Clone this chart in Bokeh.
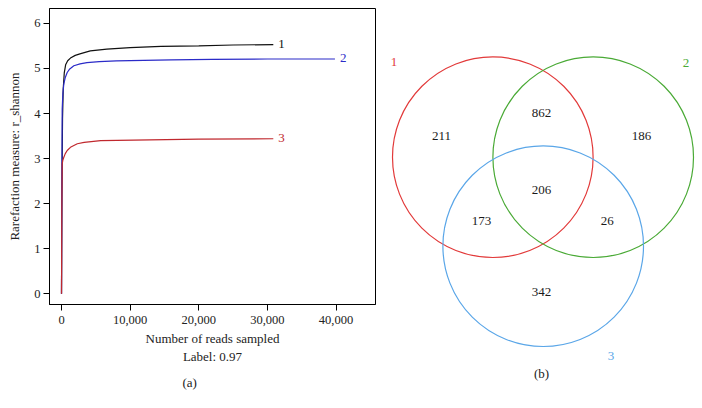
from bokeh.plotting import figure
from bokeh.layouts import row, column
from bokeh.models import Range1d, FixedTicker, NumeralTickFormatter, Title
from bokeh.core.properties import value
from bokeh.embed import file_html
from bokeh.resources import INLINE

# ---------------- data: rarefaction curves ----------------
s1_x = [0, 60, 150, 250, 400, 600, 900, 1300, 2000, 2800, 4200, 6600, 10000, 14500, 20000, 25000, 30860]
s1_y = [0, 2.2, 3.9, 4.55, 4.9, 5.08, 5.17, 5.23, 5.29, 5.33, 5.39, 5.43, 5.46, 5.49, 5.50, 5.52, 5.53]
s2_x = [0, 50, 100, 200, 340, 550, 830, 1200, 1800, 2700, 3700, 5500, 8000, 12000, 16000, 22000, 30000, 39840]
s2_y = [0, 2.5, 4.1, 4.45, 4.66, 4.8, 4.91, 4.99, 5.06, 5.10, 5.13, 5.15, 5.17, 5.18, 5.19, 5.20, 5.21, 5.21]
s3_x = [0, 40, 100, 200, 340, 550, 830, 1300, 2300, 3300, 5700, 10500, 20000, 30860]
s3_y = [0, 1.8, 2.88, 2.97, 3.03, 3.11, 3.18, 3.25, 3.33, 3.36, 3.40, 3.41, 3.43, 3.44]
series_names = ["1", "2", "3"]
x_ticks = [0, 10000, 20000, 30000, 40000]
y_ticks = [0, 1, 2, 3, 4, 5, 6]

# ---------------- data: Venn ----------------
set_labels = ["1", "2", "3"]
region_names = ["1 only", "2 only", "3 only", "1&2", "1&3", "2&3", "1&2&3"]
region_counts = [211, 186, 342, 862, 173, 26, 206]

FONT = "Liberation Serif"
curve_colors = ["#111111", "#2b2bc8", "#c0282e"]
label_colors = ["#111111", "#2b2bc8", "#c0282e"]

# ---------------- left panel ----------------
p1 = figure(width=376, height=406, x_range=Range1d(-1750, 45750), y_range=Range1d(-0.237, 6.33),
            output_backend="svg", toolbar_location=None,
            min_border_left=49, min_border_right=1, min_border_top=8, min_border_bottom=102)
p1.grid.visible = False
p1.outline_line_color = "black"
p1.outline_line_width = 1
p1.outline_line_alpha = 1

for xs, ys, c, name, lc in zip([s1_x, s2_x, s3_x], [s1_y, s2_y, s3_y], curve_colors, series_names, label_colors):
    p1.line(xs, ys, line_color=c, line_width=1.2)
    p1.text(x=[xs[-1]], y=[ys[-1]], text=[name], text_color=lc, text_font=value(FONT),
            text_font_size="13px", text_align="left", text_baseline="middle", x_offset=5, y_offset=-1)

for ax in (p1.xaxis[0], p1.yaxis[0]):
    ax.axis_line_color = "black"
    ax.major_tick_line_color = "black"
    ax.minor_tick_line_color = None
    ax.major_tick_out = 6
    ax.major_tick_in = 0
    ax.major_label_text_font = FONT
    ax.major_label_text_font_size = "12.5px"
    ax.major_label_text_color = "#222222"
    ax.axis_label_text_font = FONT
    ax.axis_label_text_font_size = "13px"
    ax.axis_label_text_font_style = "normal"
    ax.axis_label_text_color = "#222222"

p1.xaxis.ticker = FixedTicker(ticks=x_ticks)
p1.xaxis.formatter = NumeralTickFormatter(format="0,0")
p1.xaxis.major_label_standoff = 5
p1.xaxis.axis_label = "Number of reads sampled\nLabel: 0.97"
p1.xaxis.axis_label_standoff = 4
p1.yaxis.ticker = FixedTicker(ticks=y_ticks)
p1.yaxis.major_label_standoff = 3
p1.yaxis.axis_label = "Rarefaction measure: r_shannon"
p1.yaxis.axis_label_standoff = 9

t2 = Title(text="(a)", align="left", text_font=FONT, text_font_size="13px",
           text_font_style="normal", text_color="#222222", standoff=12, offset=133)
p1.add_layout(t2, "below")

# ---------------- right panel (Venn) ----------------
p2 = figure(width=324, height=406, x_range=Range1d(376, 700), y_range=Range1d(406, 0),
            output_backend="svg", toolbar_location=None, x_axis_type=None, y_axis_type=None,
            min_border=0)
p2.grid.visible = False
p2.outline_line_color = None

circle_cx = [492.3, 592.7, 542.7]
circle_cy = [156.7, 156.7, 245.7]
circle_r = 100.3
venn_colors = ["#e23a3a", "#4aaa36", "#5aa6e8"]
p2.circle(x=circle_cx, y=circle_cy, radius=circle_r, fill_color=None, line_color=venn_colors, line_width=1.2)

set_label_x = [393.5, 685.5, 610.5]
set_label_y = [61.5, 62.5, 355.5]
p2.text(x=set_label_x, y=set_label_y, text=set_labels, text_color=venn_colors, text_font=value(FONT),
        text_font_size="13px", text_align="center", text_baseline="middle")

region_x = [441.0, 641.0, 541.0, 541.0, 481.0, 606.7, 541.0]
region_y = [135.5, 135.0, 291.0, 112.5, 220.0, 220.0, 189.0]
p2.text(x=region_x, y=region_y, text=[str(v) for v in region_counts], text_color="#1a1a1a",
        text_font=value(FONT), text_font_size="13px", text_align="center", text_baseline="middle")

p2.text(x=[541.0], y=[372.7], text=["(b)"], text_color="#222222", text_font=value(FONT),
        text_font_size="13px", text_align="center", text_baseline="middle")

layout = row(column(p1), column(p2))
open("out.html", "w").write(file_html(layout, INLINE))
